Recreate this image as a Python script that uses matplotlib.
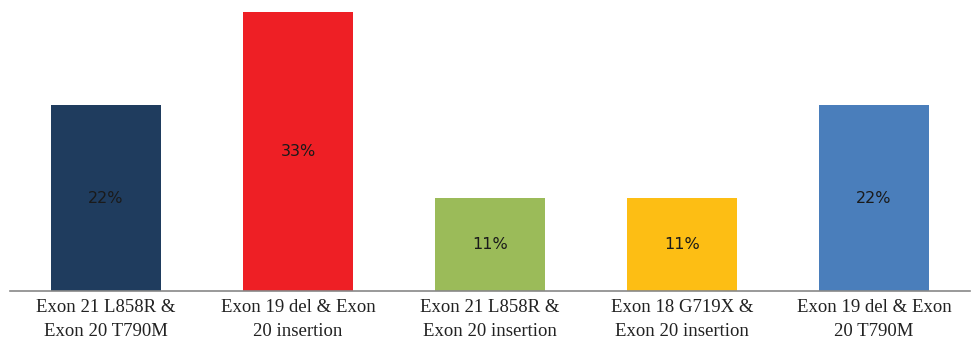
import numpy as np
import matplotlib.pyplot as plt

# co-mutation categories and their share of cases (%)
labels = ['Exon 21 L858R &\nExon 20 T790M',
          'Exon 19 del & Exon\n20 insertion',
          'Exon 21 L858R &\nExon 20 insertion',
          'Exon 18 G719X &\nExon 20 insertion',
          'Exon 19 del & Exon\n20 T790M']
shares = [22, 33, 11, 11, 22]
colors = ['#1F3C5E', '#EE1F25', '#9BBB59', '#FDBE14', '#4A7EBB']

fig = plt.figure(figsize=(9.73, 3.56), dpi=100)
ax = fig.add_axes([10/973, 1 - 291/356, 960/973, 279/356])

x = np.arange(len(shares))
bars = ax.bar(x, shares, width=0.57, color=colors)
for b, v in zip(bars, shares):
    ax.text(b.get_x() + b.get_width()/2, v/2, '%d%%' % v,
            ha='center', va='center', fontsize=11.5, color='#1a1a1a',
            family='DejaVu Sans')

ax.set_xlim(-0.5, len(shares) - 0.5)
ax.set_ylim(0, 33)
ax.set_xticks(x)
ax.set_xticklabels(labels, family='Liberation Serif', fontsize=13.5,
                   color='#222222', linespacing=1.55)
ax.tick_params(axis='x', length=0, pad=6)
ax.set_yticks([])
for s in ['top', 'right', 'left']:
    ax.spines[s].set_visible(False)
ax.spines['bottom'].set_color('#888888')
ax.spines['bottom'].set_linewidth(1.2)

plt.savefig('out.png', dpi=100)
